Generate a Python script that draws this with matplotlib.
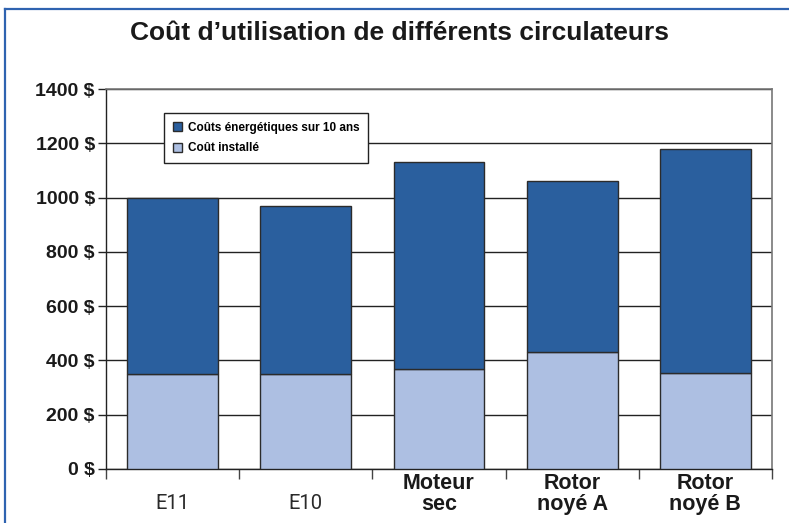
import matplotlib.pyplot as plt
from matplotlib.lines import Line2D
import numpy as np

categories = ['E11', 'E10', 'Moteur\nsec', 'Rotor\nnoyé A', 'Rotor\nnoyé B']
label_bold = [False, False, True, True, True]
cout_installe = [350, 350, 370, 430, 355]
cout_energie = [650, 620, 760, 630, 825]
y_ticks = [0, 200, 400, 600, 800, 1000, 1200, 1400]

DARK = '#2a5f9e'
LIGHT = '#adbfe2'
EDGE = '#2b2b2b'

plt.rcParams['font.family'] = ['Liberation Sans', 'DejaVu Sans']

fig = plt.figure(figsize=(7.89, 5.23), dpi=100)
ax = fig.add_axes([0.1343, 0.1033, 0.8442, 0.7265])

x = np.arange(len(categories))
ax.bar(x, cout_installe, width=0.68, color=LIGHT, edgecolor=EDGE, linewidth=1.0, zorder=3,
       label='Coût installé')
ax.bar(x, cout_energie, bottom=cout_installe, width=0.68, color=DARK, edgecolor=EDGE,
       linewidth=1.0, zorder=3, label='Coûts énergétiques sur 10 ans')

ax.set_xlim(-0.5, len(categories) - 0.5)
ax.set_ylim(0, 1400)
ax.set_yticks(y_ticks)
ax.set_yticklabels([f'{v} $' for v in y_ticks], fontsize=14, fontweight='bold', color='#1a1a1a')
ax.yaxis.grid(True, color='#222222', linewidth=1.0, zorder=0)
ax.tick_params(axis='y', length=6, width=1, pad=2, color='#222222')

# category separators as major ticks, labels on minor ticks
ax.set_xticks(np.arange(len(categories) + 1) - 0.5)
ax.set_xticklabels([])
ax.tick_params(axis='x', which='major', length=7, width=1, color='#444444')
ax.set_xticks(x, categories, minor=True)
ax.tick_params(axis='x', which='minor', length=0, pad=18)
for lbl, b in zip(ax.get_xticklabels(minor=True), label_bold):
    lbl.set_linespacing(1.0)
    if b:
        lbl.set_verticalalignment('center')
        lbl.set_fontsize(15.5)
        lbl.set_fontweight('bold')
        lbl.set_color('#1a1a1a')
    else:
        lbl.set_verticalalignment('top')
        lbl.set_fontsize(14.5)
        lbl.set_fontfamily(['Roboto', 'Liberation Sans'])
        lbl.set_fontweight('normal')
        lbl.set_color('#2a2a2a')

for side in ['left', 'bottom']:
    ax.spines[side].set_color('#222222')
    ax.spines[side].set_linewidth(1.0)
for side in ['top', 'right']:
    ax.spines[side].set_color('#777777')
    ax.spines[side].set_linewidth(1.2)

handles, labels = ax.get_legend_handles_labels()
leg = ax.legend(handles[::-1], labels[::-1], loc='upper left', bbox_to_anchor=(0.078, 0.953),
                fancybox=False, edgecolor='#222222', framealpha=1, borderpad=0.75,
                handlelength=0.8, handleheight=0.8, handletextpad=0.5, labelspacing=0.75,
                prop={'size': 8.5, 'weight': 'bold'})
leg.get_frame().set_linewidth(1.0)
leg.set_zorder(5)

fig.suptitle('Coût d’utilisation de différents circulateurs', x=0.506, y=0.936, va='center',
             fontsize=19, fontweight='bold', color='#1a1a1a')

# blue frame around the figure (top and left edges)
fig.add_artist(Line2D([0.006, 1.0], [0.983, 0.983], transform=fig.transFigure,
                      color='#2f63b0', linewidth=1.6))
fig.add_artist(Line2D([0.006, 0.006], [0.0, 0.983], transform=fig.transFigure,
                      color='#2f63b0', linewidth=1.6))

fig.savefig('out.png', dpi=100)
